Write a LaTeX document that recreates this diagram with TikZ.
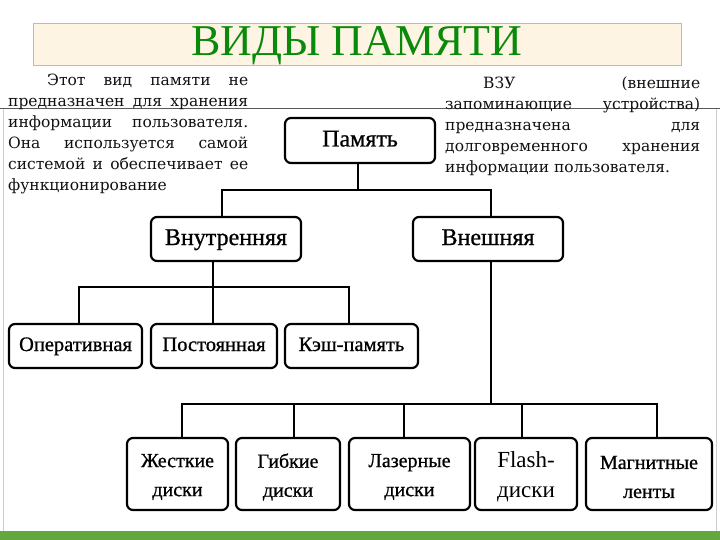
\documentclass[tikz,border=0pt]{standalone}
\usepackage{fontspec}
\setmainfont{Liberation Serif}
\newfontfamily\parafont{DejaVu Serif}
\newfontfamily\boxfont[FakeBold=0.8]{Liberation Serif}
\definecolor{titlegreen}{HTML}{0A8A0A}
\definecolor{titlefill}{HTML}{FDF4E3}
\definecolor{titleedge}{HTML}{9CC4DC}
\definecolor{barGreen}{HTML}{62A83F}
\definecolor{paraInk}{HTML}{111111}
\begin{document}
\begin{tikzpicture}[x=1pt,y=-1pt,
  box/.style={draw=black, line width=2.2pt, rounded corners=6pt, inner sep=0pt, align=center, font=\boxfont\fontsize{24}{26}\selectfont, text height=17pt, text depth=5pt},
  smallbox/.style={box, font=\boxfont\fontsize{20.5}{24}\selectfont, text height=14pt, text depth=4pt},
  lowbox/.style={draw=black, line width=2.2pt, rounded corners=6pt, inner sep=0pt, minimum height=72pt},
  lowtext/.style={inner sep=0pt, align=center, yshift=-3pt, font=\boxfont\fontsize{20}{29}\selectfont},
  para/.style={inner sep=0pt, anchor=base west, text=paraInk, font=\parafont\fontsize{15.5}{21}\selectfont},
  conn/.style={line width=2.2pt, line cap=rect}]
\useasboundingbox (0,0) rectangle (720,540);
% frame of the embedded picture
\draw[gray!40, line width=0.8pt] (3,108.5) -- (3,531);
\draw[gray!40, line width=0.8pt] (716,108.5) -- (716,531);
\draw[black!65, line width=0.9pt] (0,108.5) -- (720,108.5);
\fill[barGreen] (0,531) rectangle (720,540);
% title
\node[draw=titleedge, fill=titlefill, line width=0.8pt, minimum width=648pt, minimum height=42pt, inner sep=0pt] (titlebox) at (357,44) {};
\node[text=titlegreen, font=\fontsize{44}{46}\selectfont, inner sep=0pt, anchor=base] (title) at (357,56) {ВИДЫ ПАМЯТИ};
% left paragraph
\node[para] (la) at (47,86) {\makebox[201pt][s]{Этот вид памяти не}};
\node[para] (lb) at (8,107) {\makebox[240pt][s]{предназначен для хранения}};
\node[para] (lc) at (8,128) {\makebox[240pt][s]{информации пользователя.}};
\node[para] (ld) at (8,149) {\makebox[240pt][s]{Она используется самой}};
\node[para] (le) at (8,170) {\makebox[240pt][s]{системой и обеспечивает ее}};
\node[para] (lf) at (8,191) {функционирование};
% right paragraph
\node[para] (ra) at (483,89) {\makebox[217pt][s]{ВЗУ (внешние}};
\node[para] (rb) at (445,110) {\makebox[255pt][s]{запоминающие устройства)}};
\node[para] (rc) at (445,131) {\makebox[255pt][s]{предназначена для}};
\node[para] (rd) at (445,152) {\makebox[255pt][s]{долговременного хранения}};
\node[para] (re) at (445,173) {информации пользователя.};
% boxes
\node[box, minimum width=150pt, minimum height=45pt] (mem) at (360,140.5) {Память};
\node[box, minimum width=150pt, minimum height=44pt] (vnut) at (226,239) {Внутренняя};
\node[box, minimum width=150pt, minimum height=44pt] (vnesh) at (488,239) {Внешняя};
\node[smallbox, minimum width=133pt, minimum height=44pt] (oper) at (75.5,346) {Оперативная};
\node[smallbox, minimum width=126pt, minimum height=44pt] (post) at (214,346) {Постоянная};
\node[smallbox, minimum width=133pt, minimum height=44pt] (kesh) at (351.5,346) {Кэш-память};
\node[lowbox, minimum width=101pt] (zhest) at (177.5,474) {};
\node[lowbox, minimum width=104pt] (gib) at (288,474) {};
\node[lowbox, minimum width=121pt] (laz) at (409.5,474) {};
\node[lowbox, minimum width=102pt] (flash) at (526,474) {};
\node[lowbox, minimum width=126pt] (magn) at (649,474) {};
\node[lowtext] (zhestT) at (zhest) {Жесткие\\диски};
\node[lowtext] (gibT) at (gib) {Гибкие\\диски};
\node[lowtext] (lazT) at (laz) {Лазерные\\диски};
\node[lowtext, font=\fontsize{23}{30}\selectfont] (flashT) at (flash) {Flash-\\диски};
\node[lowtext] (magnT) at (magn) {Магнитные\\ленты};
% connectors level 1
\coordinate (b1m) at (358,190);
\coordinate (b1l) at (222,190);
\coordinate (b1r) at (491,190);
\draw[conn] (b1m |- mem.south) -- (b1m);
\draw[conn] (b1l |- vnut.north) -- (b1l) -- (b1r) -- (b1r |- vnesh.north);
% connectors level 2
\coordinate (b2m) at (213,287);
\coordinate (b2l) at (79,287);
\coordinate (b2r) at (349,287);
\draw[conn] (b2m |- vnut.south) -- (b2m |- post.north);
\draw[conn] (b2l |- oper.north) -- (b2l) -- (b2r) -- (b2r |- kesh.north);
% connectors level 3
\coordinate (b3m) at (491,404);
\coordinate (b3a) at (182,404);
\coordinate (b3b) at (294,404);
\coordinate (b3c) at (404,404);
\coordinate (b3d) at (522,404);
\coordinate (b3e) at (657,404);
\draw[conn] (b3m |- vnesh.south) -- (b3m);
\draw[conn] (b3a |- zhest.north) -- (b3a) -- (b3e) -- (b3e |- magn.north);
\draw[conn] (b3b) -- (b3b |- gib.north);
\draw[conn] (b3c) -- (b3c |- laz.north);
\draw[conn] (b3d) -- (b3d |- flash.north);
\end{tikzpicture}
\end{document}
